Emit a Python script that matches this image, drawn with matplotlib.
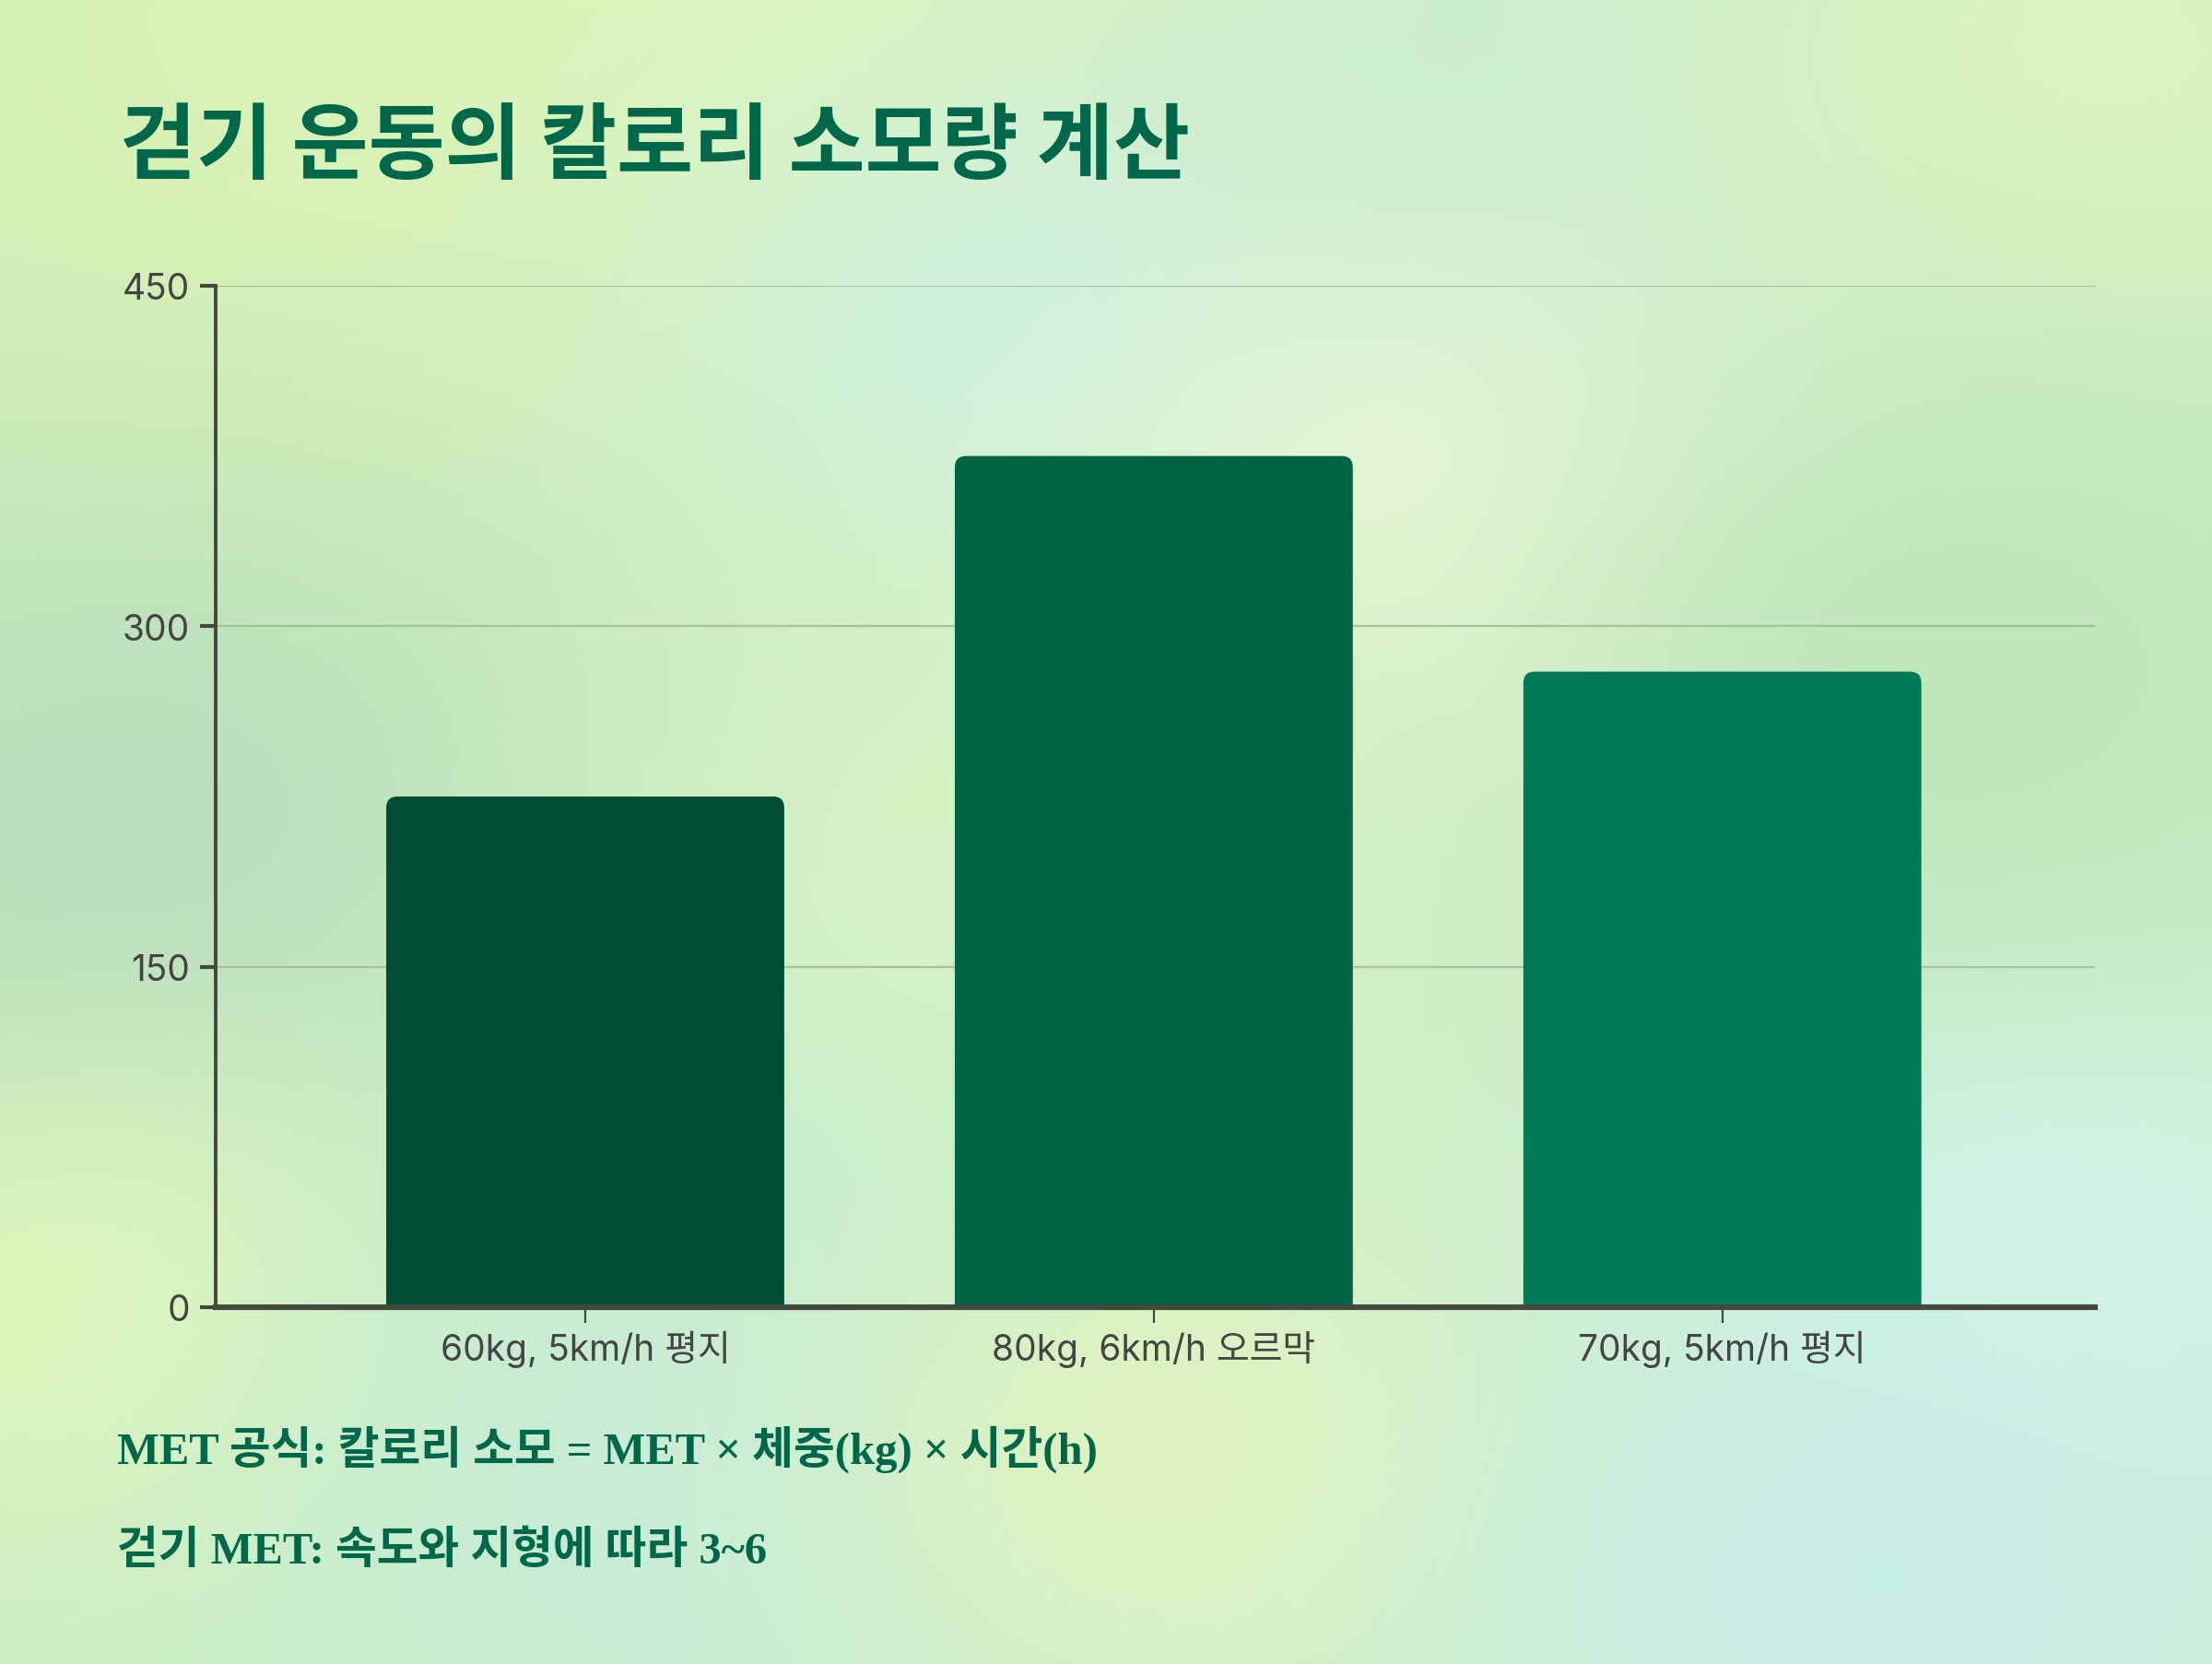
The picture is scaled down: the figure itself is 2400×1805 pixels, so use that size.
import numpy as np
import matplotlib
matplotlib.use("Agg")
from matplotlib import pyplot as plt
from matplotlib.patches import FancyBboxPatch
from matplotlib.colors import to_rgb

categories = ["60kg, 5km/h 평지", "80kg, 6km/h 오르막", "70kg, 5km/h 평지"]
calories = [225, 375, 280]
bar_colors = ["#004d35", "#006445", "#007a55"]
yticks = [0, 150, 300, 450]
title = "걷기 운동의 칼로리 소모량 계산"
notes = ["MET 공식: 칼로리 소모 = MET × 체중(kg) × 시간(h)",
         "걷기 MET: 속도와 지형에 따라 3~6"]

plt.rcParams['font.family'] = ['Noto Sans CJK KR', 'DejaVu Sans']

fig = plt.figure(figsize=(12, 9.03), dpi=200)

# soft blurred background
W, H = 600, 450
xx, yy = np.meshgrid(np.linspace(0, 1, W), np.linspace(0, 1, H))
img = np.ones((H, W, 3)) * np.array(to_rgb("#c8ebc0"))
blobs = [
    (0.15, 0.05, 0.25, "#d8f2b4"),
    (0.45, 0.0, 0.2, "#e0f5b8"),
    (0.47, 0.22, 0.12, "#d0f2e4"),
    (0.75, 0.1, 0.2, "#c6ead6"),
    (0.95, 0.05, 0.15, "#dcf4bc"),
    (0.66, 0.32, 0.12, "#eef8dc"),
    (0.08, 0.55, 0.18, "#b6dcbc"),
    (0.05, 0.8, 0.12, "#e4f8b4"),
    (0.45, 0.55, 0.15, "#d8f4c0"),
    (0.92, 0.75, 0.13, "#d8f6ee"),
    (0.35, 0.9, 0.2, "#c6ecd8"),
    (0.55, 0.88, 0.12, "#e2f4bc"),
    (0.85, 0.95, 0.15, "#c8eee8"),
    (0.88, 0.4, 0.15, "#c0e6bc"),
]
for cx, cy, r, c in blobs:
    w = np.exp(-((xx - cx) ** 2 + (yy - cy) ** 2) / (2 * r ** 2))[..., None]
    img = img * (1 - w) + np.array(to_rgb(c)) * w
bg = fig.add_axes([0, 0, 1, 1], zorder=-10)
bg.imshow(img, aspect='auto', extent=[0, 1, 0, 1], origin='upper', interpolation='bicubic')
bg.axis('off')

ax = fig.add_axes([0.0975, 0.2143, 0.8495, 0.6135])
ax.patch.set_alpha(0)
x = np.arange(len(categories))
bars = ax.bar(x, calories, width=0.7, color=bar_colors, zorder=2)
for rect, c in zip(bars, bar_colors):
    rect.set_visible(False)
    fb = FancyBboxPatch((rect.get_x(), -10), rect.get_width(), rect.get_height() + 10,
                        boxstyle="round,pad=0,rounding_size=0.02",
                        mutation_aspect=250, facecolor=c, edgecolor='none', zorder=2)
    ax.add_patch(fb)

ax.set_xlim(-0.65, 2.655)
ax.set_ylim(0, 450)
ax.set_yticks(yticks)
ax.set_xticks(x)
ax.set_xticklabels(categories)
ax.yaxis.grid(True, color="#9fb89a", linewidth=0.8, alpha=0.85, zorder=0)
ax.set_axisbelow(True)
for s in ['top', 'right']:
    ax.spines[s].set_visible(False)
ax.spines['left'].set_color("#45483f")
ax.spines['left'].set_linewidth(1.4)
ax.spines['bottom'].set_color("#45483f")
ax.spines['bottom'].set_linewidth(2.2)
ax.spines['bottom'].set_zorder(3)
ax.tick_params(axis='y', length=6, width=1.5, color="#45483f", labelcolor="#444444",
               labelsize=14, pad=4)
ax.tick_params(axis='x', length=6, width=0.8, color="#45483f", labelcolor="#444444",
               labelsize=14, pad=3)
for lab in ax.get_xticklabels() + ax.get_yticklabels():
    lab.set_family(['Inter', 'Noto Sans CJK KR'])

fig.text(0.054, 0.911, title, fontsize=32.5, fontweight='bold', color="#00684a",
         va='center', ha='left')
fig.text(0.053, 0.121, notes[0], fontsize=17.5, fontweight='bold', color="#00684a",
         family=['Liberation Serif', 'Noto Sans CJK KR'], va='baseline', ha='left')
fig.text(0.053, 0.061, notes[1], fontsize=17.5, fontweight='bold', color="#00684a",
         family=['Liberation Serif', 'Noto Sans CJK KR'], va='baseline', ha='left')

fig.savefig("out.png", dpi=200)
